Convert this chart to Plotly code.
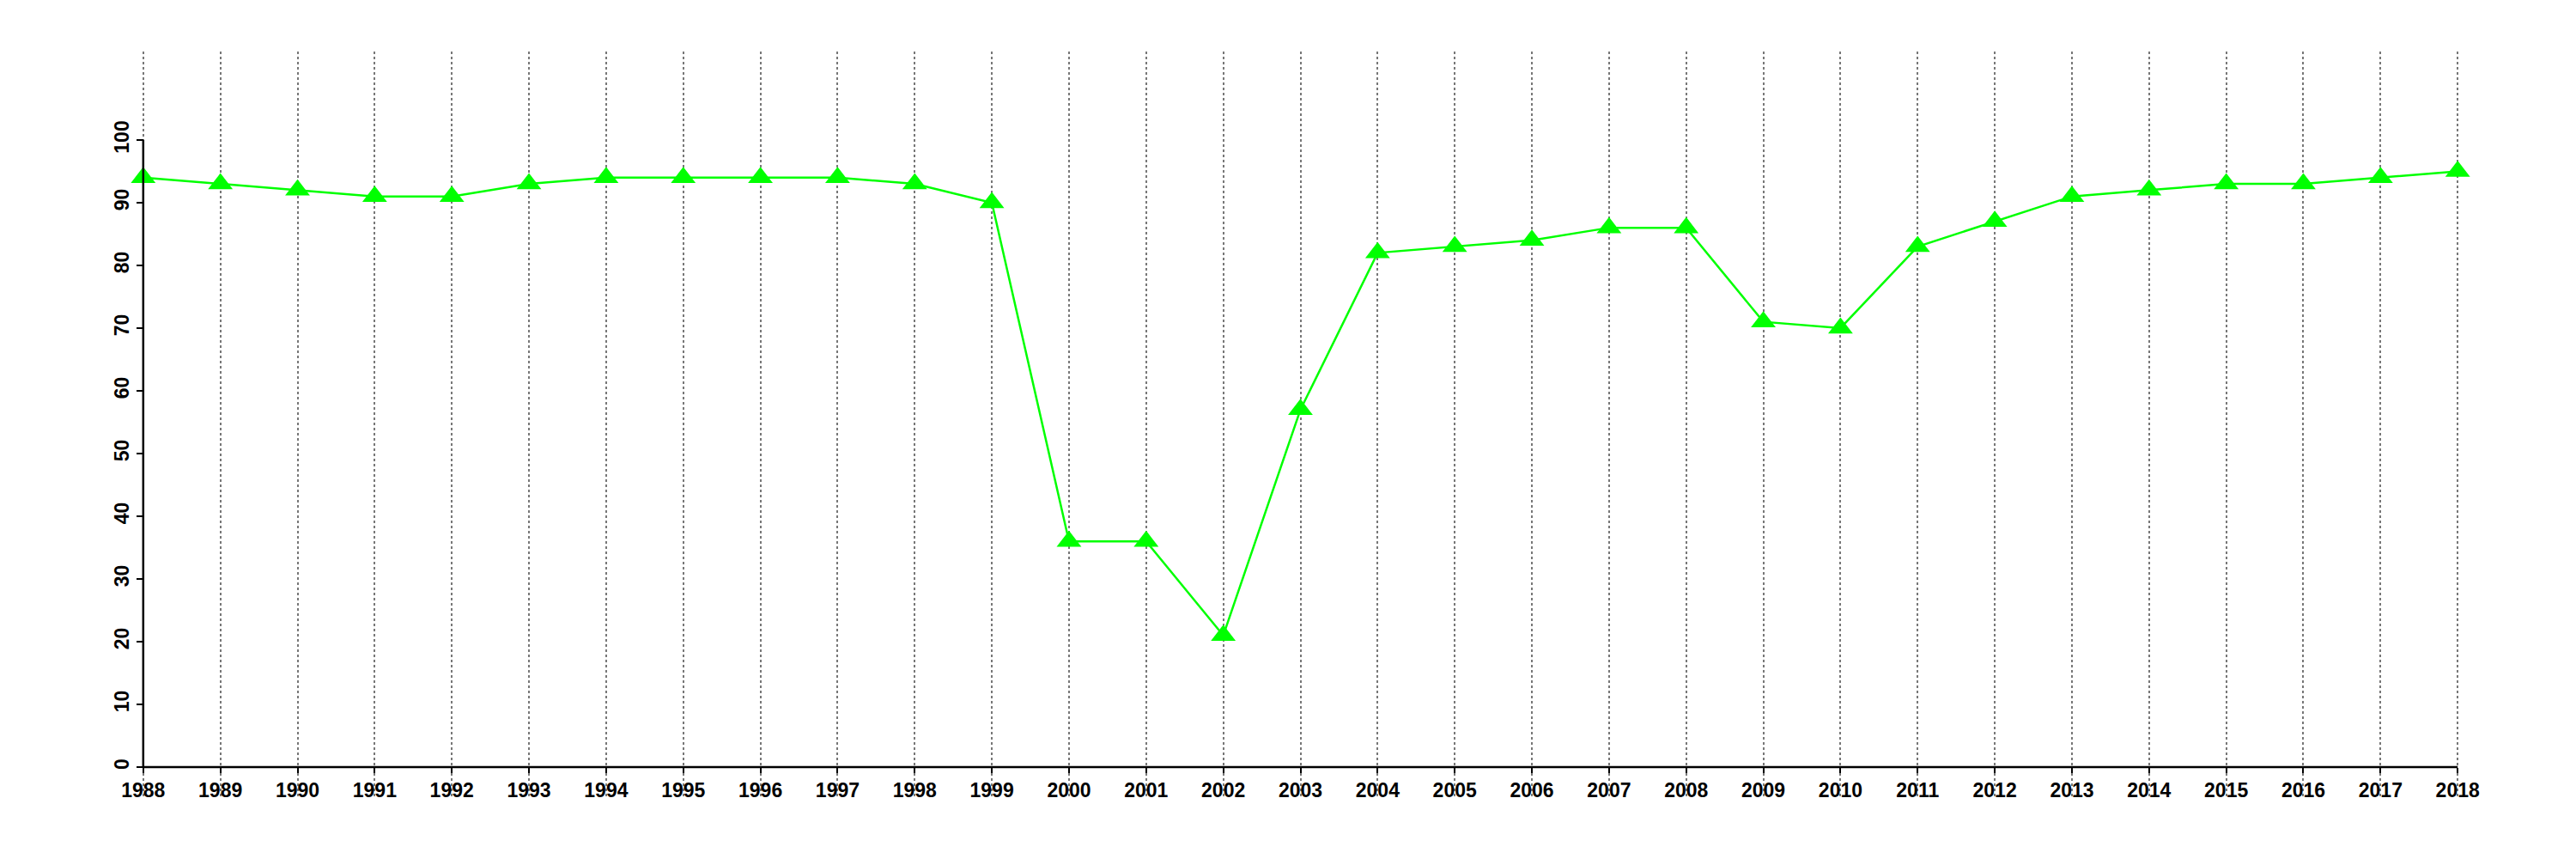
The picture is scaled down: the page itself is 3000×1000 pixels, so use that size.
import plotly.graph_objects as go

years = list(range(1988, 2019))
values = [94, 93, 92, 91, 91, 93, 94, 94, 94, 94, 93, 90, 36, 36, 21, 57,
          82, 83, 84, 86, 86, 71, 70, 83, 87, 91, 92, 93, 93, 94, 95]
y_ticks = [0, 10, 20, 30, 40, 50, 60, 70, 80, 90, 100]

x_range = [1986.8, 2019.2]
y_range = [-4.66, 114.1]

fig = go.Figure()
fig.add_trace(go.Scatter(
    x=years, y=values, mode="lines+markers",
    line=dict(color="#00FF00", width=2.5),
    marker=dict(symbol="triangle-up", size=25, color="#00FF00"),
    showlegend=False, hoverinfo="x+y",
))

font = dict(family="Liberation Sans, Arial, sans-serif", size=23, color="black", weight="bold")

xpos = (0 - y_range[0]) / (y_range[1] - y_range[0])
ypos = (years[0] - x_range[0]) / (x_range[1] - x_range[0])

fig.update_layout(
    width=3000, height=1000,
    margin=dict(l=51, r=38, t=52, b=81),
    plot_bgcolor="white", paper_bgcolor="white",
    xaxis=dict(
        range=x_range, tickvals=years, ticktext=[str(y) for y in years],
        showgrid=True, gridcolor="#777777", gridwidth=2, griddash="dot",
        zeroline=False, showline=False, automargin=False,
        ticks="outside", ticklen=6, tickwidth=2, tickcolor="black",
        tickfont=font, anchor="free", position=xpos,
    ),
    yaxis=dict(
        range=y_range, tickvals=y_ticks, ticktext=[str(v) for v in y_ticks],
        showgrid=False, zeroline=False, showline=False, automargin=False,
        ticks="outside", ticklen=8, tickwidth=2, tickcolor="black",
        tickfont=font, tickangle=-90, anchor="free", position=ypos,
    ),
)

# axis lines spanning only the data range
fig.add_shape(type="line", xref="x", yref="y", x0=years[0], x1=years[-1], y0=0, y1=0,
              line=dict(color="black", width=2.5))
fig.add_shape(type="line", xref="x", yref="y", x0=years[0], x1=years[0], y0=y_ticks[0], y1=y_ticks[-1],
              line=dict(color="black", width=2.5))

fig.write_html("out.html")
